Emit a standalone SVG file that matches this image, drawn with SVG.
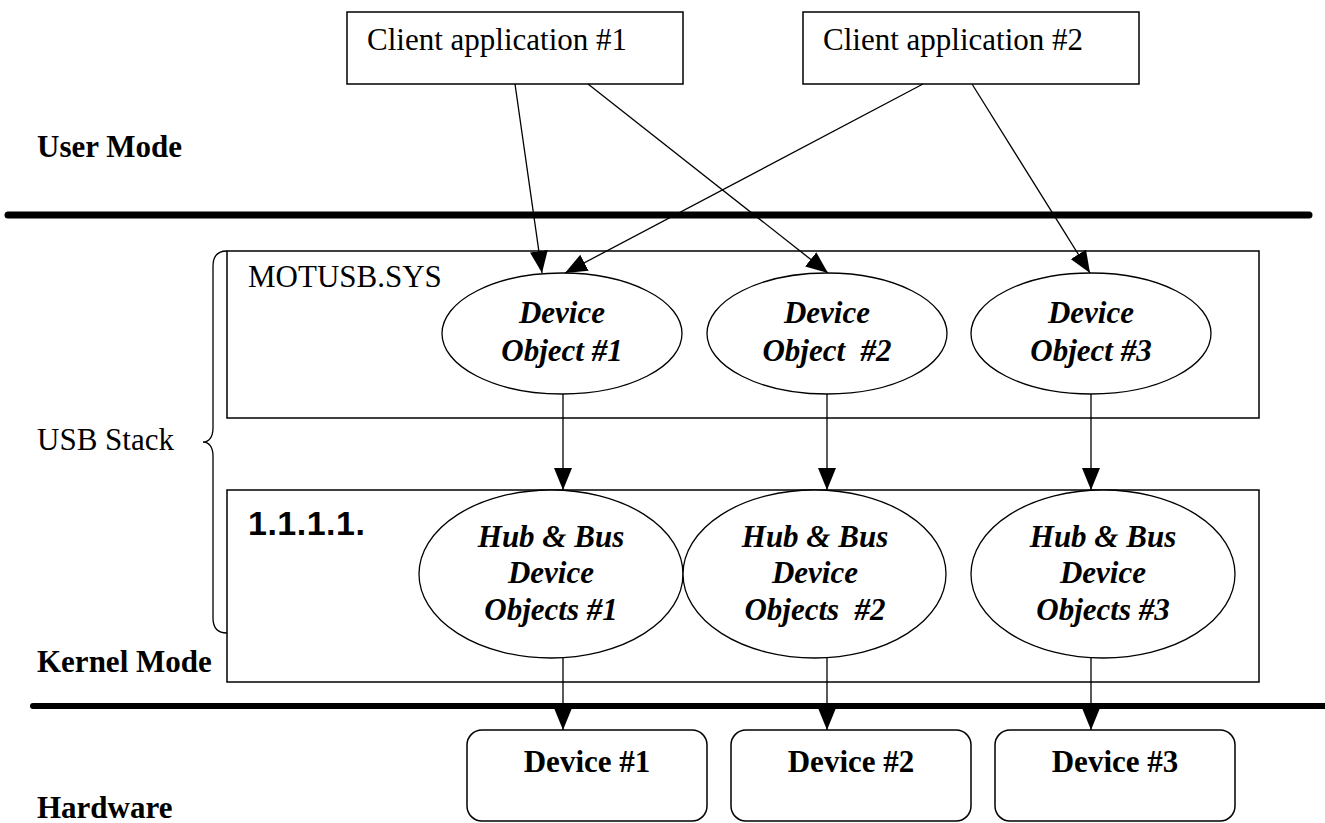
<svg xmlns="http://www.w3.org/2000/svg" width="1325" height="823" viewBox="0 0 1325 823">
<defs>
<style>
.t{font-family:"Liberation Serif","Times New Roman",serif;font-size:31px;fill:#000}
.b{font-weight:bold}
.bi{font-weight:bold;font-style:italic}
.box{fill:#fff;stroke:#000;stroke-width:1.5}
.ell{fill:#fff;stroke:#000;stroke-width:1.3}
.con{fill:none;stroke:#000;stroke-width:1.3}
.sep{stroke:#000;stroke-linecap:round}
.mid{text-anchor:middle}
</style>
<marker id="ah" markerUnits="userSpaceOnUse" markerWidth="22" markerHeight="18" refX="22" refY="9" orient="auto" viewBox="0 0 22 18">
<path d="M0,0 L22,9 L0,18 z" fill="#000"/>
</marker>
</defs>
<rect width="1325" height="823" fill="#fff"/>

<g id="layer-labels">
<text class="t b" x="37" y="157">User Mode</text>
<text class="t" x="37" y="450">USB Stack</text>
<text class="t b" x="37" y="672">Kernel Mode</text>
<text class="t b" x="37" y="818">Hardware</text>
</g>

<g id="separators">
<line class="sep" x1="8" y1="215" x2="1309" y2="215" stroke-width="7"/>
<line class="sep" x1="33" y1="706" x2="1330" y2="706" stroke-width="6"/>
</g>

<g id="brace">
<path class="con" d="M227,251 C218,251 213,256 213,266 L213,428 C213,437 209,442 203,442 C209,442 213,447 213,456 L213,618 C213,628 218,633 227,633"/>
</g>

<g id="client1">
<rect class="box" x="347" y="12" width="336" height="72"/>
<text class="t" x="367" y="50">Client application #1</text>
</g>
<g id="client2">
<rect class="box" x="803" y="12" width="336" height="72"/>
<text class="t" x="823" y="50">Client application #2</text>
</g>

<g id="motusb">
<rect class="box" x="227" y="251" width="1032" height="167"/>
<text class="t" x="248" y="287">MOTUSB.SYS</text>
</g>

<g id="devobj1">
<ellipse class="ell" cx="562" cy="333.5" rx="120" ry="60.5"/>
<text class="t bi mid" x="562" y="323">Device</text>
<text class="t bi mid" x="562" y="361">Object #1</text>
</g>
<g id="devobj2">
<ellipse class="ell" cx="827" cy="333.5" rx="120" ry="60.5"/>
<text class="t bi mid" x="827" y="323">Device</text>
<text class="t bi mid" x="827" y="361" xml:space="preserve">Object  #2</text>
</g>
<g id="devobj3">
<ellipse class="ell" cx="1091" cy="333.5" rx="120" ry="60.5"/>
<text class="t bi mid" x="1091" y="323">Device</text>
<text class="t bi mid" x="1091" y="361">Object #3</text>
</g>

<g id="hubbus">
<rect class="box" x="227" y="490" width="1032" height="192"/>
<text x="248" y="535" style="font-family:'Liberation Sans',Arial,sans-serif;font-weight:bold;font-size:34px;letter-spacing:0.5px">1.1.1.1.</text>
</g>

<g id="hub1">
<ellipse class="ell" cx="551" cy="574" rx="132" ry="84"/>
<text class="t bi mid" x="551" y="547">Hub &amp; Bus</text>
<text class="t bi mid" x="551" y="583">Device</text>
<text class="t bi mid" x="551" y="620">Objects #1</text>
</g>
<g id="hub2">
<ellipse class="ell" cx="814.5" cy="574" rx="131.5" ry="84"/>
<text class="t bi mid" x="815" y="547">Hub &amp; Bus</text>
<text class="t bi mid" x="815" y="583">Device</text>
<text class="t bi mid" x="815" y="620" xml:space="preserve">Objects  #2</text>
</g>
<g id="hub3">
<ellipse class="ell" cx="1103" cy="574" rx="132" ry="84"/>
<text class="t bi mid" x="1103" y="547">Hub &amp; Bus</text>
<text class="t bi mid" x="1103" y="583">Device</text>
<text class="t bi mid" x="1103" y="620">Objects #3</text>
</g>

<g id="device1">
<rect class="box" x="467" y="730" width="240" height="91" rx="15"/>
<text class="t b mid" x="587" y="772">Device #1</text>
</g>
<g id="device2">
<rect class="box" x="731" y="730" width="240" height="91" rx="15"/>
<text class="t b mid" x="851" y="772">Device #2</text>
</g>
<g id="device3">
<rect class="box" x="995" y="730" width="240" height="91" rx="15"/>
<text class="t b mid" x="1115" y="772">Device #3</text>
</g>

<g id="connectors">
<line class="con" x1="515" y1="84" x2="542" y2="273" marker-end="url(#ah)"/>
<line class="con" x1="588" y1="84" x2="828" y2="273" marker-end="url(#ah)"/>
<line class="con" x1="923" y1="84" x2="565" y2="273" marker-end="url(#ah)"/>
<line class="con" x1="972" y1="84" x2="1090" y2="273" marker-end="url(#ah)"/>
<line class="con" x1="563" y1="394" x2="563" y2="490" marker-end="url(#ah)"/>
<line class="con" x1="827" y1="394" x2="827" y2="490" marker-end="url(#ah)"/>
<line class="con" x1="1091" y1="394" x2="1091" y2="490" marker-end="url(#ah)"/>
<line class="con" x1="563" y1="658" x2="563" y2="730" marker-end="url(#ah)"/>
<line class="con" x1="827" y1="658" x2="827" y2="730" marker-end="url(#ah)"/>
<line class="con" x1="1091" y1="658" x2="1091" y2="730" marker-end="url(#ah)"/>
</g>
</svg>
